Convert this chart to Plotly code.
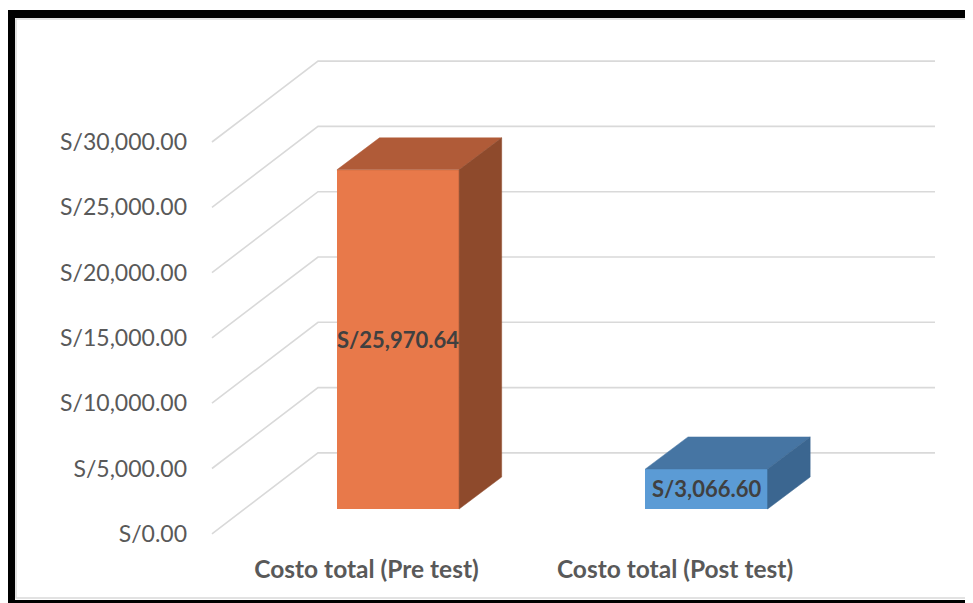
import plotly.graph_objects as go

# ---------------- data ----------------
categories = ["Costo total (Pre test)", "Costo total (Post test)"]
values = [25970.64, 3066.60]
tick_values = [0, 5000, 10000, 15000, 20000, 25000, 30000]
tick_labels = [f"S/{t:,.2f}" for t in tick_values]

front_colors = ["#E8794A", "#5B9BD5"]
top_colors = ["#B05B38", "#4675A3"]
side_colors = ["#8E4A2C", "#3B6690"]

# ---------------- layout / pseudo-3D style ----------------
W, H = 973, 603
PAGE_OFF = 8                             # default body margin of the page
L, R, T, B = 195, 960, 20, 552          # plot area in screen pixels
X0_PX, X_PER_CAT = 398, 308.5            # category 0 centre, px per category
BASE_PX, PX_PER_UNIT = 509, 0.01306      # bar base pixel, px per value unit

x_range = [(L - X0_PX) / X_PER_CAT, (R - X0_PX) / X_PER_CAT]
y_range = [(BASE_PX - B) / PX_PER_UNIT, (BASE_PX - T) / PX_PER_UNIT]

BAR_W = 0.396
BAR_DX, BAR_DY = 0.138, 2450             # bar depth offset
WALL_FRONT_X, WALL_BACK_X, WALL_RIGHT_X = -0.603, -0.2593, 1.7407
FRONT_OFF, BACK_OFF = 1900, 4295
LABEL_SHIFT = -0.102
GRID = "#D9D9D9"
FONT = "Lato"

fig = go.Figure()

# back wall gridlines + side diagonals (main subplot, bottom layer)
gx, gy = [], []
for t in tick_values:
    gx += [WALL_FRONT_X, WALL_BACK_X, WALL_RIGHT_X, None]
    gy += [t - FRONT_OFF, t + BACK_OFF, t + BACK_OFF, None]
fig.add_trace(go.Scatter(x=gx, y=gy, mode="lines", line=dict(color=GRID, width=1.6),
                         hoverinfo="skip", showlegend=False))

# dummy trace so the value-label axis is drawn
fig.add_trace(go.Scatter(x=[None], y=[None], yaxis="y2", showlegend=False, hoverinfo="skip"))

# front faces (overlay subplot, above the gridlines)
fig.add_trace(go.Bar(x=list(range(len(values))), y=values, width=BAR_W, yaxis="y3",
                     marker=dict(color=front_colors, line=dict(width=0)),
                     showlegend=False, hoverinfo="skip"))

# top and side faces of the bars
for i, v in enumerate(values):
    xl, xr = i - BAR_W / 2, i + BAR_W / 2
    fig.add_trace(go.Scatter(
        x=[xl, xl + BAR_DX, xr + BAR_DX, xr, xl],
        y=[v, v + BAR_DY, v + BAR_DY, v, v], yaxis="y3",
        fill="toself", fillcolor=top_colors[i], mode="lines",
        line=dict(color=top_colors[i], width=0.5), hoverinfo="skip", showlegend=False))
    fig.add_trace(go.Scatter(
        x=[xr, xr + BAR_DX, xr + BAR_DX, xr, xr],
        y=[0, BAR_DY, v + BAR_DY, v, 0], yaxis="y3",
        fill="toself", fillcolor=side_colors[i], mode="lines",
        line=dict(color=side_colors[i], width=0.5), hoverinfo="skip", showlegend=False))

# data labels
for i, v in enumerate(values):
    fig.add_annotation(x=i, y=v / 2, yref="y3", text=f"S/{v:,.2f}", showarrow=False,
                       font=dict(family=FONT, size=22, color="#404040", weight="bold"))

def px2paper_x(px):
    return (px - L) / (R - L)

def px2paper_y(py):
    return (B - py) / (B - T)

shapes = [
    dict(type="rect", xref="paper", yref="paper",
         x0=px2paper_x(16), x1=px2paper_x(990), y0=px2paper_y(598), y1=px2paper_y(19),
         line=dict(color="#D9D9D9", width=1.5), layer="below"),
    dict(type="rect", xref="paper", yref="paper",
         x0=px2paper_x(11), x1=px2paper_x(990), y0=px2paper_y(604), y1=px2paper_y(14),
         line=dict(color="black", width=8)),
]

axis_off = dict(showgrid=False, zeroline=False, showline=False, ticks="")

fig.update_layout(
    width=W, height=H, autosize=False,
    margin=dict(l=L - PAGE_OFF, r=W - (R - PAGE_OFF), t=T - PAGE_OFF, b=H - (B - PAGE_OFF)),
    paper_bgcolor="white", plot_bgcolor="white",
    bargap=0,
    xaxis=dict(range=x_range, tickvals=[i + LABEL_SHIFT for i in range(len(categories))],
               ticktext=categories,
               tickfont=dict(family=FONT, size=24.5, color="#595959", weight="bold"),
               **axis_off),
    yaxis=dict(range=y_range, showticklabels=False, **axis_off),
    yaxis2=dict(range=[y_range[0] + FRONT_OFF, y_range[1] + FRONT_OFF], overlaying="y",
                side="left", anchor="x", tickvals=tick_values, ticktext=tick_labels,
                ticklabelstandoff=7,
                tickfont=dict(family=FONT, size=23, color="#595959"), **axis_off),
    yaxis3=dict(range=y_range, overlaying="y", anchor="x", showticklabels=False, **axis_off),
    shapes=shapes,
)

fig.write_html("out.html")
